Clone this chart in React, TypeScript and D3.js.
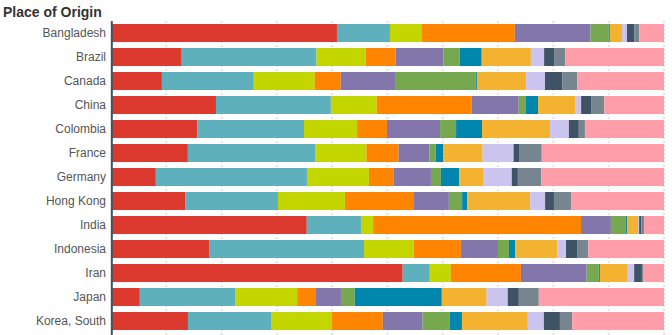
import React from "react";
import * as d3 from "d3";

const countries = ["Bangladesh","Brazil","Canada","China","Colombia","France","Germany","Hong Kong","India","Indonesia","Iran","Japan","Korea, South"];

const seriesKeys = ["s1","s2","s3","s4","s5","s6","s7","s8","s9","s10","s11","s12"];
const seriesColors = ["#dc3a2e","#5eb0bc","#c4d600","#ff8400","#8376aa","#75a84f","#0086ad","#f3b230","#cbc4ef","#3f5366","#778591","#ff9ea8"];

const s1 = [40.9, 12.8, 9.2, 19.0, 15.6, 13.9, 8.1, 13.4, 35.4, 17.7, 52.8, 5.2, 13.9];
const s2 = [9.6, 24.4, 16.6, 20.8, 19.3, 23.1, 27.3, 16.8, 9.8, 28.0, 4.9, 17.2, 15.0];
const s3 = [5.8, 8.9, 11.0, 8.3, 9.6, 9.2, 11.2, 12.1, 2.2, 9.0, 3.8, 11.2, 11.0];
const s4 = [16.8, 5.4, 4.7, 17.2, 5.4, 5.8, 4.5, 12.5, 37.6, 8.5, 12.7, 3.4, 9.2];
const s5 = [13.7, 8.7, 9.8, 8.5, 9.6, 5.6, 6.7, 6.3, 5.4, 6.7, 11.9, 4.5, 7.2];
const s6 = [3.3, 2.9, 14.6, 1.3, 2.9, 1.1, 1.8, 2.4, 2.7, 2.0, 2.2, 2.5, 4.9];
const s7 = [0.2, 4.0, 0.2, 2.2, 4.7, 1.4, 3.3, 0.9, 0.2, 1.1, 0.2, 15.7, 2.2];
const s8 = [2.2, 8.9, 8.9, 6.7, 12.3, 7.1, 4.3, 11.4, 2.0, 7.6, 4.9, 8.1, 11.9];
const s9 = [0.9, 2.4, 3.4, 1.1, 3.4, 5.6, 5.2, 2.7, 0.2, 1.6, 1.3, 3.8, 2.9];
const s10 = [1.3, 1.8, 3.1, 1.8, 1.8, 1.1, 1.1, 1.6, 0.4, 2.0, 1.4, 2.0, 2.9];
const s11 = [0.9, 2.0, 2.7, 2.4, 1.1, 4.0, 4.2, 3.1, 0.5, 2.0, 0.2, 3.6, 2.2];
const s12 = [4.5, 17.9, 15.7, 10.8, 14.3, 22.1, 22.2, 16.8, 3.6, 13.7, 3.8, 22.6, 16.6];

const seriesValues = [s1, s2, s3, s4, s5, s6, s7, s8, s9, s10, s11, s12];
const gridTicks = [0.1, 0.2, 0.3, 0.4, 0.5, 0.6, 0.7, 0.8, 0.9, 1.0];

const W = 672;
const H = 335;

export default function App() {
  const rows = countries.map((c, i) => {
    const r: any = { country: c };
    seriesKeys.forEach((k, j) => (r[k] = seriesValues[j][i]));
    return r;
  });
  const stack = d3.stack().keys(seriesKeys).offset(d3.stackOffsetExpand);
  const layers = stack(rows);

  const x = d3.scaleLinear().domain([0, 1]).range([111, 664]);
  const y = d3.scaleBand().domain(countries).range([21, 333]).paddingInner(0.25).paddingOuter(0.125);
  const color = d3.scaleOrdinal<string, string>().domain(seriesKeys).range(seriesColors);

  return (
    <svg width={W} height={H} style={{ position: "absolute", left: 0, top: 0 }} fontFamily="'Liberation Sans', Arial, sans-serif">
      <text x={3} y={17} fontSize={14} fontWeight="bold" fill="#333">Place of Origin</text>
      {gridTicks.map((t) => (
        <line key={t} x1={x(t)} x2={x(t)} y1={21} y2={H} stroke="#e2e2e2" strokeWidth={2} strokeDasharray="2,2" />
      ))}
      {layers.map((layer) => (
        <g key={layer.key} fill={color(layer.key)}>
          {layer.map((d: any, i: number) => (
            <rect
              key={i}
              x={x(d[0])}
              y={y(d.data.country)}
              width={Math.max(0, x(d[1]) - x(d[0]))}
              height={y.bandwidth()}
            />
          ))}
        </g>
      ))}
      {countries.map((c) => (
        <text key={c} x={106} y={(y(c) as number) + y.bandwidth() / 2} dy="0.35em" textAnchor="end" fontSize={12} fill="#555">
          {c}
        </text>
      ))}
      <line x1={111.8} x2={111.8} y1={21} y2={H} stroke="#3f5366" strokeWidth={2} />
    </svg>
  );
}
